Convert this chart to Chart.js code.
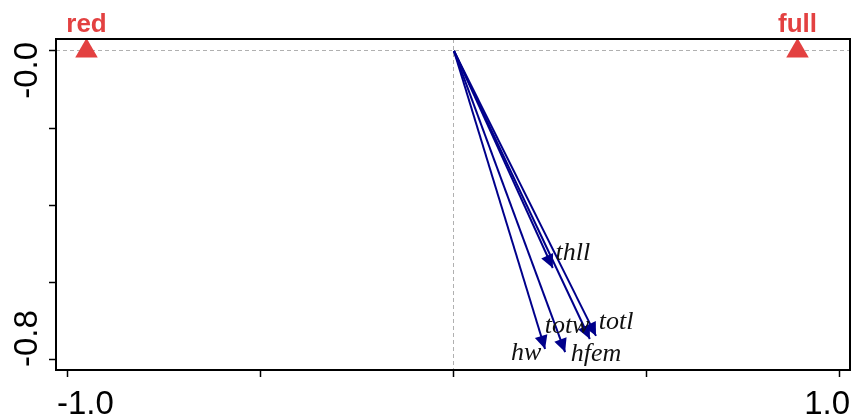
<!DOCTYPE html>
<html lang="en">
<head>
    <meta charset="UTF-8">
    <title>Biplot</title>
    <script src="https://cdn.jsdelivr.net/npm/chart.js"></script>
    <style>
        body { margin: 0; background: #fff; }
    </style>
</head>
<body>
    <canvas id="grafico" width="854" height="417"></canvas>
    <script>
        // group centroids (red triangles)
        const groupNames = ['red', 'full']
        const groupX = [-0.952, 0.890]
        const groupY = [0.0, 0.0]

        // variable loadings (arrows) and where their labels sit
        const varNames = ['thll', 'totw', 'totl', 'hw', 'hfem']
        const varX = [0.256, 0.352, 0.368, 0.236, 0.288]
        const varY = [-0.563, -0.747, -0.739, -0.773, -0.781]
        const varLabelX = [0.308, 0.293, 0.420, 0.187, 0.368]
        const varLabelY = [-0.524, -0.713, -0.703, -0.783, -0.786]

        // axis ticks
        const xTickValues = [-1.0, -0.5, 0.0, 0.5, 1.0]
        const xTickLabels = ['-1.0', '', '', '', '1.0']
        const yTickValues = [0.0, -0.2, -0.4, -0.6, -0.8]
        const yTickLabels = ['-0.0', '', '', '', '-0.8']

        const corRed = '#e34141'
        const corAzul = '#00008b'

        const datasets = varNames.map((nome, i) => ({
            label: nome,
            data: [{x: 0, y: 0}, {x: varX[i], y: varY[i]}],
            showLine: true,
            borderColor: corAzul,
            borderWidth: 2,
            pointRadius: 0,
            clip: false,
            isArrow: true
        }))
        datasets.push({
            label: 'groups',
            data: groupX.map((x, i) => ({x: x, y: groupY[i]})),
            pointStyle: 'triangle',
            pointRadius: 13,
            backgroundColor: corRed,
            borderWidth: 0,
            clip: false
        })

        // arrow heads, text labels, box and tick labels
        const desenhos = {
            id: 'desenhos',
            afterDatasetsDraw(chart) {
                const ctx = chart.ctx
                const sx = chart.scales.x
                const sy = chart.scales.y
                ctx.save()
                chart.data.datasets.forEach((ds, i) => {
                    if (!ds.isArrow) return
                    const pts = chart.getDatasetMeta(i).data
                    const x0 = pts[0].x, y0 = pts[0].y, x1 = pts[1].x, y1 = pts[1].y
                    const ang = Math.atan2(y1 - y0, x1 - x0)
                    const len = 15, abre = Math.PI / 7
                    ctx.fillStyle = corAzul
                    ctx.beginPath()
                    ctx.moveTo(x1, y1)
                    ctx.lineTo(x1 - len * Math.cos(ang - abre), y1 - len * Math.sin(ang - abre))
                    ctx.lineTo(x1 - len * Math.cos(ang + abre), y1 - len * Math.sin(ang + abre))
                    ctx.closePath()
                    ctx.fill()
                })
                // variable names
                ctx.font = 'italic 26px "Liberation Serif", "DejaVu Serif", serif'
                ctx.fillStyle = '#111'
                ctx.textAlign = 'center'
                ctx.textBaseline = 'middle'
                varNames.forEach((nome, i) => {
                    ctx.fillText(nome, sx.getPixelForValue(varLabelX[i]), sy.getPixelForValue(varLabelY[i]))
                })
                // group names
                ctx.font = 'bold 26px "Liberation Sans", Arial, sans-serif'
                ctx.fillStyle = corRed
                ctx.textBaseline = 'alphabetic'
                groupNames.forEach((nome, i) => {
                    ctx.fillText(nome, sx.getPixelForValue(groupX[i]), sy.getPixelForValue(groupY[i]) - 19)
                })
                ctx.restore()
            },
            afterDraw(chart) {
                const ctx = chart.ctx
                const a = chart.chartArea
                const sx = chart.scales.x
                const sy = chart.scales.y
                ctx.save()
                ctx.strokeStyle = '#000'
                ctx.lineWidth = 2
                ctx.strokeRect(a.left, a.top, a.right - a.left, a.bottom - a.top)

                ctx.font = '33px "Liberation Sans", Arial, sans-serif'
                ctx.fillStyle = '#000'
                ctx.textAlign = 'center'
                ctx.textBaseline = 'alphabetic'
                xTickValues.forEach((v, i) => {
                    const txt = xTickLabels[i]
                    if (!txt) return
                    const w = ctx.measureText(txt).width
                    let px = sx.getPixelForValue(v)
                    px = Math.min(Math.max(px, a.left + w / 2 + 1), a.right - w / 2)
                    ctx.fillText(txt, px, 414)
                })
                yTickValues.forEach((v, i) => {
                    const txt = yTickLabels[i]
                    if (!txt) return
                    const w = ctx.measureText(txt).width
                    let py = sy.getPixelForValue(v)
                    py = Math.min(Math.max(py, a.top + w / 2 + 3), a.bottom - w / 2 - 3)
                    ctx.save()
                    ctx.translate(36.5, py)
                    ctx.rotate(-Math.PI / 2)
                    ctx.fillText(txt, 0, 0)
                    ctx.restore()
                })
                ctx.restore()
            }
        }

        const gradeZero = (c) => (c.tick && c.tick.value === 0) ? '#b0b0b0' : 'rgba(0,0,0,0)'

        const grafico = new Chart(document.getElementById('grafico'), {
            type: 'scatter',
            data: { datasets: datasets },
            options: {
                responsive: false,
                devicePixelRatio: 1,
                animation: false,
                layout: { autoPadding: false, padding: { left: 49, right: 4, top: 39, bottom: 40 } },
                plugins: {
                    legend: { display: false },
                    tooltip: { enabled: false }
                },
                scales: {
                    x: {
                        type: 'linear',
                        min: -1.031,
                        max: 1.026,
                        afterBuildTicks: (s) => { s.ticks = xTickValues.map(v => ({value: v})) },
                        ticks: { display: false },
                        grid: { color: gradeZero, lineWidth: 1, tickLength: 7, tickColor: '#000', tickWidth: 1.5 },
                        border: { display: false, dash: [4, 3] }
                    },
                    y: {
                        type: 'linear',
                        min: -0.8275,
                        max: 0.031,
                        afterBuildTicks: (s) => { s.ticks = yTickValues.map(v => ({value: v})) },
                        ticks: { display: false },
                        grid: { color: gradeZero, lineWidth: 1, tickLength: 7, tickColor: '#000', tickWidth: 1.5 },
                        border: { display: false, dash: [4, 3] }
                    }
                }
            },
            plugins: [desenhos]
        })
    </script>
</body>
</html>
